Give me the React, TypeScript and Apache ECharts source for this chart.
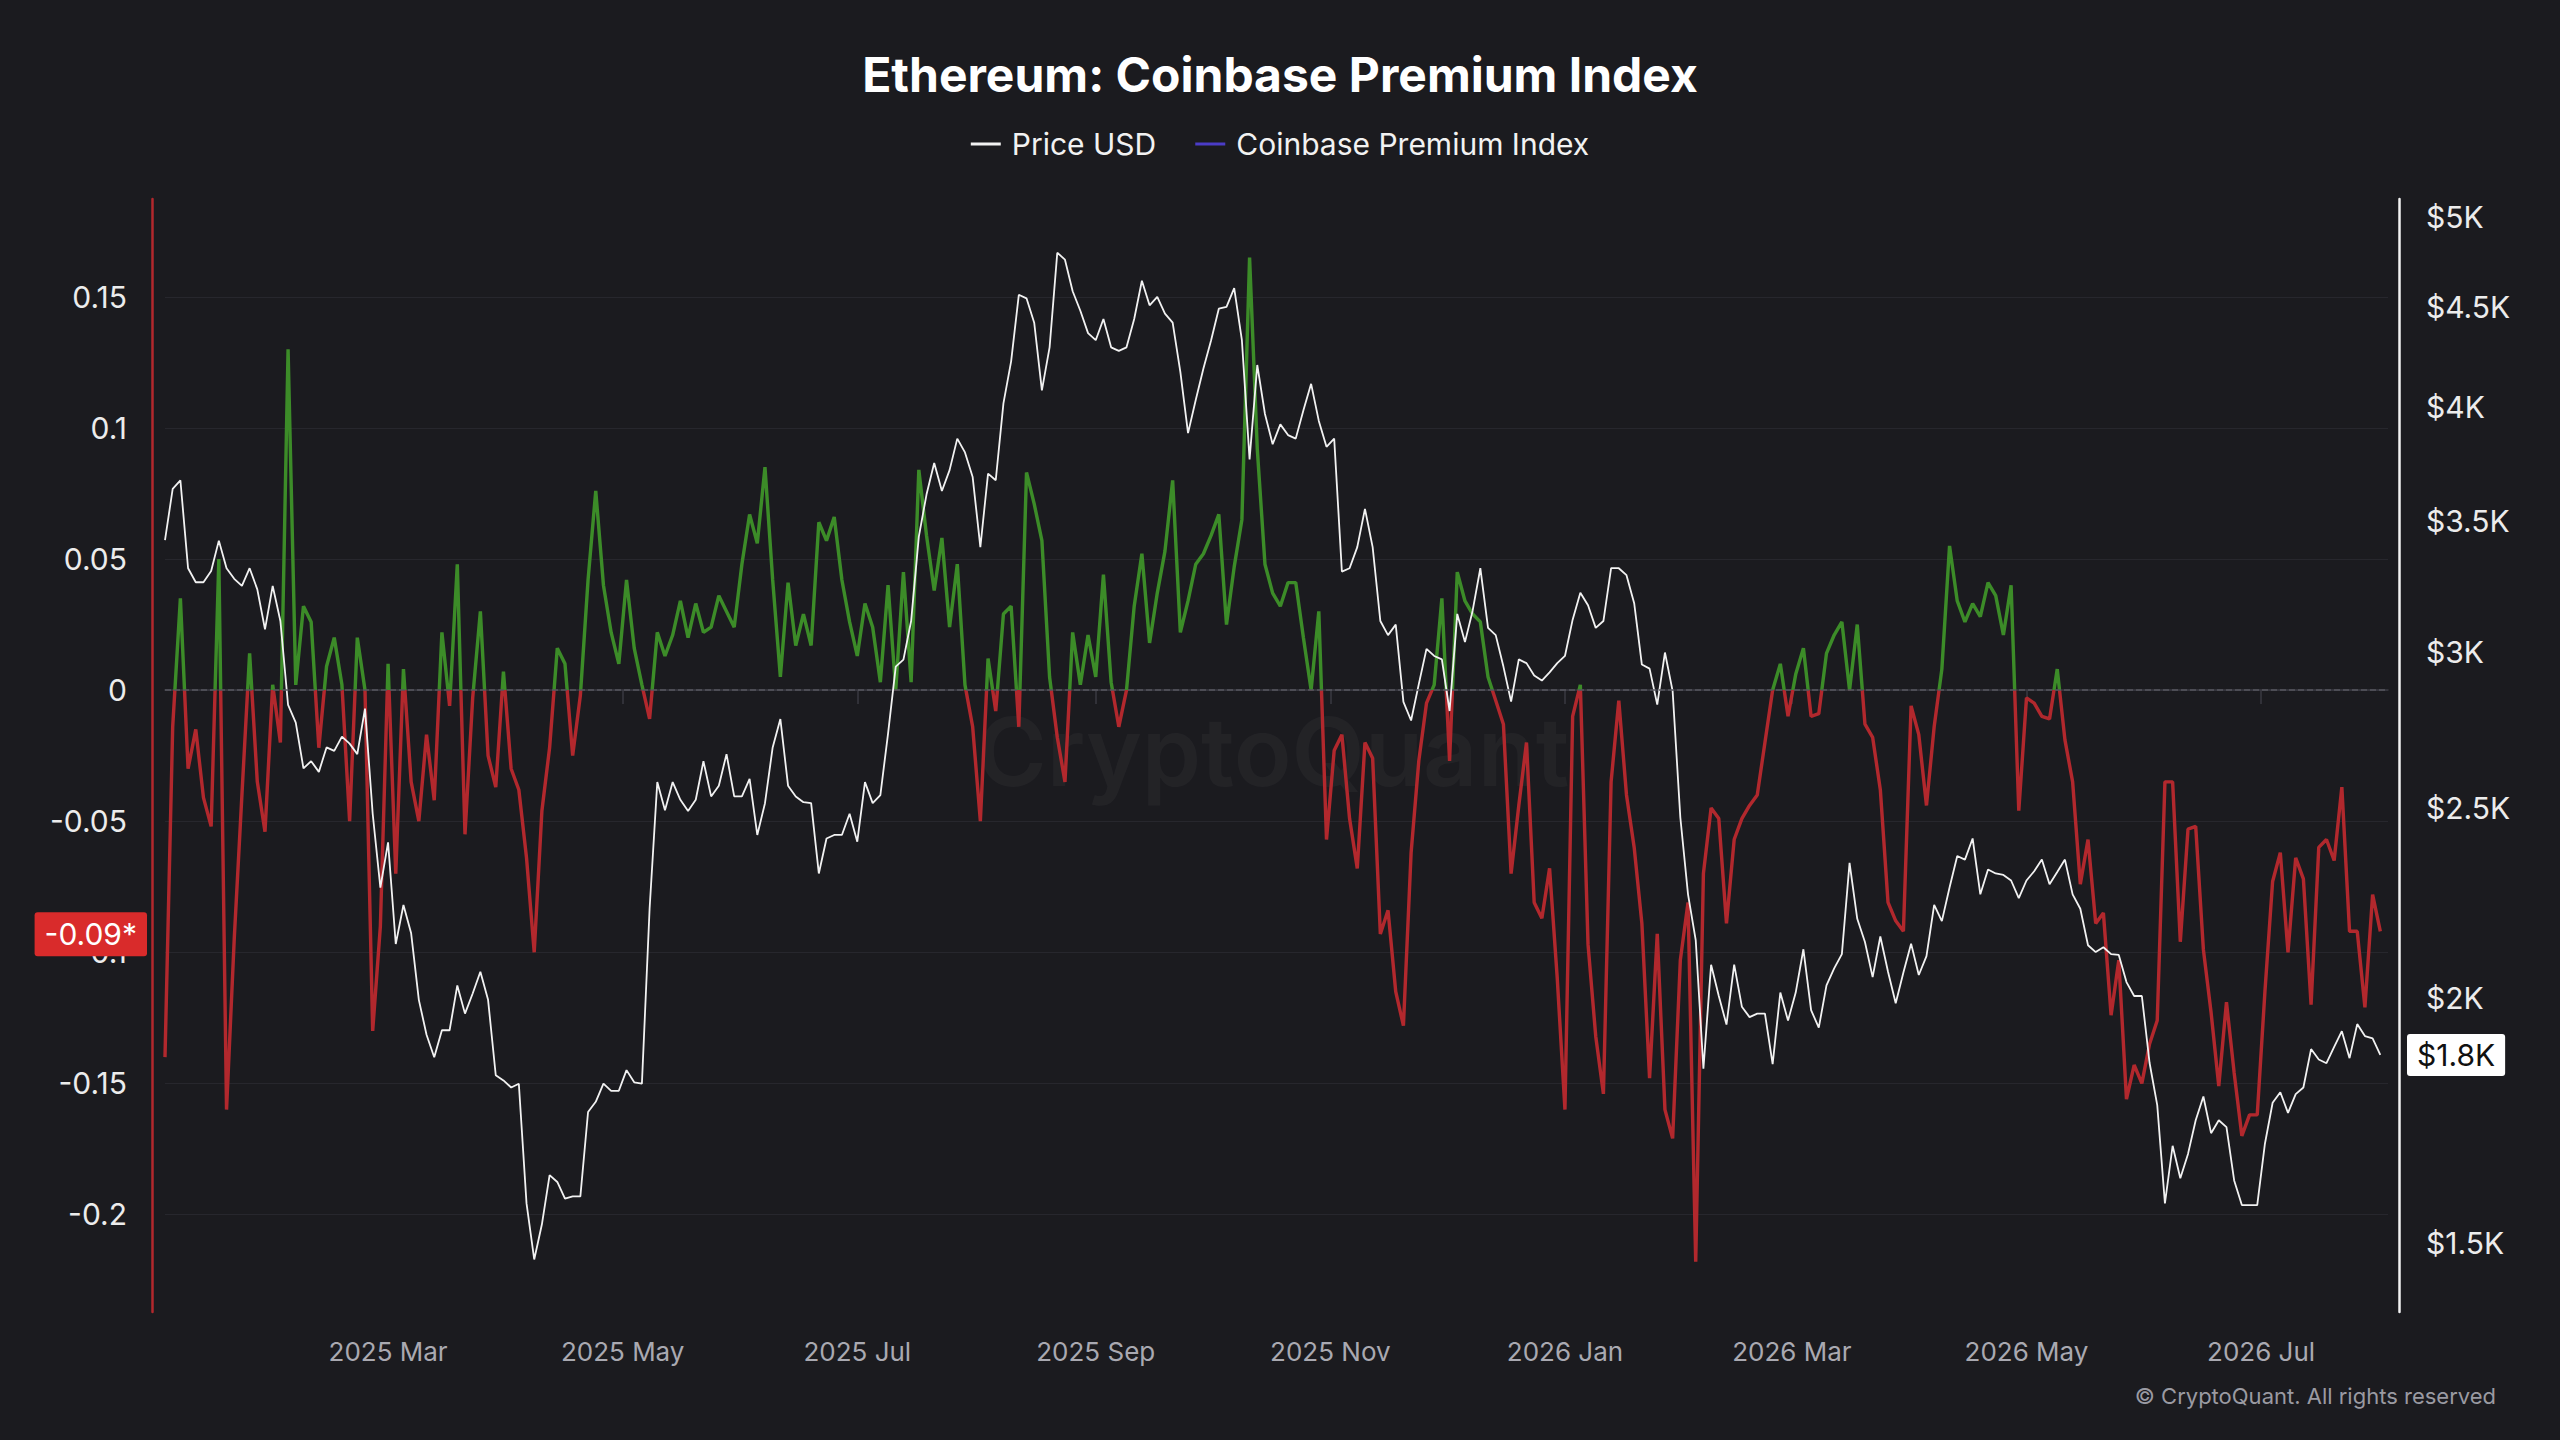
import React, { useEffect, useRef } from 'react';
import * as echarts from 'echarts';

// ---- data (one point every 2 days, starting 2025-01-02) ----
const startDate = '2025-01-02';
const stepDays = 2;
const xRange = ['2025-01-02', '2026-08-03'];
const xTickDates = ['2025-03-01', '2025-05-01', '2025-07-01', '2025-09-01', '2025-11-01', '2026-01-01', '2026-03-01', '2026-05-01', '2026-07-01'];
const monthNames = ['Jan', 'Feb', 'Mar', 'Apr', 'May', 'Jun', 'Jul', 'Aug', 'Sep', 'Oct', 'Nov', 'Dec'];
const priceTicks = [1500, 2000, 2500, 3000, 3500, 4000, 4500, 5000];
const premiumRange = [-0.2372, 0.1873];
const priceRange = [1383, 5107];

const priceUsd = [
  3422, 3634, 3671, 3311, 3257, 3257, 3300, 3420, 3311, 3270,
  3243, 3311, 3230, 3082, 3243, 3112, 2820, 2762, 2618, 2640,
  2607, 2683, 2672, 2717, 2695, 2662, 2808, 2482, 2276, 2400,
  2130, 2230, 2157, 1995, 1915, 1865, 1925, 1925, 2029, 1963,
  2010, 2062, 1995, 1826, 1815, 1800, 1808, 1571, 1471, 1533,
  1624, 1611, 1580, 1584, 1584, 1749, 1770, 1808, 1793, 1793,
  1837, 1811, 1808, 2220, 2576, 2492, 2576, 2523, 2490, 2523,
  2640, 2533, 2565, 2662, 2533, 2533, 2586, 2421, 2513, 2683,
  2774, 2565, 2533, 2516, 2513, 2314, 2411, 2421, 2421, 2482,
  2402, 2576, 2513, 2537, 2727, 2950, 2974, 3112, 3436, 3610,
  3746, 3625, 3715, 3855, 3793, 3685, 3394, 3700, 3671, 4018,
  4221, 4564, 4545, 4417, 4080, 4291, 4795, 4756, 4583, 4479,
  4363, 4327, 4436, 4291, 4273, 4291, 4436, 4640, 4508, 4553,
  4464, 4417, 4169, 3880, 4034, 4186, 4327, 4490, 4500, 4600,
  4327, 3762, 4203, 3968, 3830, 3920, 3871, 3855, 3985, 4111,
  3936, 3818, 3855, 3298, 3311, 3394, 3550, 3394, 3112, 3061,
  3099, 2830, 2769, 2890, 3012, 2987, 2975, 2800, 3138, 3036,
  3150, 3311, 3087, 3061, 2950, 2831, 2975, 2962, 2919, 2902,
  2930, 2962, 2987, 3117, 3217, 3170, 3087, 3112, 3311, 3311,
  3284, 3178, 2957, 2943, 2821, 2999, 2866, 2471, 2258, 2140,
  1840, 2079, 2004, 1938, 2079, 1979, 1955, 1963, 1963, 1850,
  2012, 1947, 2012, 2117, 1971, 1931, 2029, 2070, 2105, 2343,
  2194, 2135, 2049, 2149, 2062, 1987, 2060, 2131, 2054, 2100,
  2230, 2188, 2276, 2362, 2352, 2411, 2258, 2325, 2314, 2310,
  2295, 2248, 2295, 2320, 2352, 2285, 2318, 2352, 2258, 2220,
  2127, 2110, 2122, 2105, 2103, 2037, 2004, 2004, 1853, 1763,
  1571, 1681, 1618, 1665, 1732, 1781, 1706, 1732, 1718, 1614,
  1568, 1568, 1568, 1685, 1768, 1790, 1747, 1786, 1800, 1883,
  1860, 1852, 1888, 1923, 1863, 1939, 1912, 1907, 1870,
];

const premiumIndex = [
  -0.14, -0.014, 0.035, -0.03, -0.015, -0.041, -0.052, 0.05, -0.16, -0.095,
  -0.04, 0.014, -0.035, -0.054, 0.002, -0.02, 0.13, 0.002, 0.032, 0.026,
  -0.022, 0.009, 0.02, 0.002, -0.05, 0.02, 0.0, -0.13, -0.09, 0.01,
  -0.07, 0.008, -0.035, -0.05, -0.017, -0.042, 0.022, -0.006, 0.048, -0.055,
  -0.003, 0.03, -0.025, -0.037, 0.007, -0.03, -0.038, -0.064, -0.1, -0.046,
  -0.022, 0.016, 0.01, -0.025, -0.002, 0.042, 0.076, 0.04, 0.022, 0.01,
  0.042, 0.016, 0.002, -0.011, 0.022, 0.013, 0.021, 0.034, 0.02, 0.033,
  0.022, 0.024, 0.036, 0.03, 0.024, 0.048, 0.067, 0.056, 0.085, 0.042,
  0.005, 0.041, 0.017, 0.029, 0.017, 0.064, 0.057, 0.066, 0.042, 0.026,
  0.013, 0.033, 0.024, 0.003, 0.04, 0.0, 0.045, 0.003, 0.084, 0.059,
  0.038, 0.058, 0.024, 0.048, 0.002, -0.014, -0.05, 0.012, -0.008, 0.029,
  0.032, -0.014, 0.083, 0.071, 0.057, 0.005, -0.018, -0.035, 0.022, 0.002,
  0.021, 0.005, 0.044, 0.003, -0.014, 0.0, 0.032, 0.052, 0.018, 0.037,
  0.053, 0.08, 0.022, 0.034, 0.048, 0.052, 0.059, 0.067, 0.025, 0.047,
  0.065, 0.165, 0.092, 0.048, 0.037, 0.032, 0.041, 0.041, 0.02, 0.0,
  0.03, -0.057, -0.023, -0.017, -0.049, -0.068, -0.02, -0.026, -0.093, -0.084,
  -0.115, -0.128, -0.062, -0.027, -0.005, 0.002, 0.035, -0.027, 0.045, 0.034,
  0.029, 0.026, 0.005, -0.004, -0.013, -0.07, -0.044, -0.02, -0.081, -0.087,
  -0.068, -0.11, -0.16, -0.01, 0.002, -0.097, -0.132, -0.154, -0.035, -0.004,
  -0.04, -0.06, -0.089, -0.148, -0.093, -0.16, -0.171, -0.103, -0.081, -0.218,
  -0.07, -0.045, -0.049, -0.089, -0.057, -0.049, -0.044, -0.04, -0.02, 0.0,
  0.01, -0.01, 0.006, 0.016, -0.01, -0.009, 0.014, 0.021, 0.026, 0.0,
  0.025, -0.013, -0.018, -0.038, -0.081, -0.088, -0.092, -0.006, -0.017, -0.044,
  -0.014, 0.008, 0.055, 0.034, 0.026, 0.033, 0.028, 0.041, 0.036, 0.021,
  0.04, -0.046, -0.003, -0.005, -0.01, -0.011, 0.008, -0.019, -0.035, -0.074,
  -0.057, -0.089, -0.085, -0.124, -0.103, -0.156, -0.143, -0.15, -0.135, -0.126,
  -0.035, -0.035, -0.096, -0.053, -0.052, -0.099, -0.123, -0.151, -0.119, -0.146,
  -0.17, -0.162, -0.162, -0.115, -0.073, -0.062, -0.1, -0.064, -0.072, -0.12,
  -0.06, -0.057, -0.065, -0.037, -0.092, -0.092, -0.121, -0.078, -0.092,
];

// ---- styling ----
const BG = '#1b1b1f';
const GREEN = '#3c8c28';
const RED = '#b2282d';
const LEGEND_BLUE = '#4b3cc7';
const WHITE = '#f2f2f2';
const FONT = 'Inter, "Noto Sans", sans-serif';
const DAY = 86400000;

const parseDay = (s: string) => {
  const [y, m, d] = s.split('-').map(Number);
  return Date.UTC(y, m - 1, d);
};
const fmtDay = (t: number) => new Date(t).toISOString().slice(0, 10);

export default function App() {
  const ref = useRef<HTMLDivElement>(null);

  useEffect(() => {
    if (!ref.current) return;
    const chart = echarts.init(ref.current, null, { renderer: 'svg' });

    const days: string[] = [];
    for (let t = parseDay(xRange[0]); t <= parseDay(xRange[1]); t += DAY) days.push(fmtDay(t));
    const t0 = parseDay(startDate);
    const premiumData = premiumIndex.map((v, i) => [fmtDay(t0 + i * stepDays * DAY), v]);
    const priceData = priceUsd.map((v, i) => [fmtDay(t0 + i * stepDays * DAY), Math.log10(v)]);
    const tickSet = new Set(xTickDates);
    const isTick = (_idx: number, val: string) => tickSet.has(val);
    const lastPremium = premiumIndex[premiumIndex.length - 1];
    const lastPrice = priceUsd[priceUsd.length - 1];

    chart.setOption({
      animation: false,
      backgroundColor: BG,
      title: {
        text: 'Ethereum: Coinbase Premium Index',
        left: 'center',
        top: 45,
        textStyle: { color: '#ffffff', fontSize: 48, fontWeight: 'bold', fontFamily: FONT },
      },
      legend: {
        top: 124,
        left: 'center',
        icon: 'rect',
        itemWidth: 30,
        itemHeight: 3,
        itemGap: 39,
        textStyle: { color: WHITE, fontSize: 30, fontFamily: FONT, padding: [0, 0, 0, 6] },
        data: [
          { name: 'Price USD', itemStyle: { color: WHITE } },
          { name: 'Coinbase Premium Index', itemStyle: { color: LEGEND_BLUE } },
        ],
      },
      grid: { left: 165, right: 172, top: 199, bottom: 128, containLabel: false },
      xAxis: {
        type: 'category',
        data: days,
        boundaryGap: false,
        axisLine: { show: true, lineStyle: { color: '#3a3a42', width: 1.5 } },
        axisTick: { show: true, length: 14, interval: isTick, lineStyle: { color: '#3a3a42', width: 1.5 } },
        axisLabel: {
          interval: isTick,
          color: '#a9a9b1',
          fontSize: 26,
          fontFamily: FONT,
          margin: 26,
          formatter: (v: string) => {
            const [y, m] = v.split('-').map(Number);
            return y + ' ' + monthNames[m - 1];
          },
        },
        splitLine: { show: false },
      },
      yAxis: [
        {
          type: 'value',
          position: 'left',
          min: premiumRange[0],
          max: premiumRange[1],
          splitNumber: 8,
          offset: 13,
          axisLine: { show: true, lineStyle: { color: RED, width: 2.5 } },
          axisTick: { show: false },
          axisLabel: {
            showMinLabel: false,
            showMaxLabel: false,
            color: '#ececec',
            fontSize: 30,
            fontFamily: FONT,
            margin: 25,
            formatter: (v: number) => String(Math.round(v * 100) / 100),
          },
          splitLine: { show: true, showMinLine: false, showMaxLine: false, lineStyle: { color: '#27272d', width: 1 } },
        },
        {
          type: 'value',
          position: 'right',
          min: Math.log10(priceRange[0]),
          max: Math.log10(priceRange[1]),
          offset: 11,
          axisLine: { show: true, lineStyle: { color: WHITE, width: 2.5 } },
          axisTick: { show: false },
          axisLabel: { show: false },
          splitLine: { show: false },
        },
      ],
      visualMap: {
        type: 'piecewise',
        show: false,
        seriesIndex: 0,
        dimension: 1,
        pieces: [
          { gt: 0, lte: 1, color: GREEN },
          { gt: -1, lte: 0, color: RED },
        ],
        outOfRange: { color: RED },
      },
      series: [
        {
          name: 'Coinbase Premium Index',
          type: 'line',
          yAxisIndex: 0,
          data: premiumData,
          showSymbol: false,
          symbol: 'none',
          color: LEGEND_BLUE,
          lineStyle: { width: 3.4 },
          z: 2,
          markLine: {
            silent: true,
            symbol: ['none', 'none'],
            label: { show: false },
            lineStyle: { color: '#55555d', type: 'dashed', width: 1.5 },
            data: [{ yAxis: 0 }],
          },
        },
        {
          name: 'Price USD',
          type: 'line',
          yAxisIndex: 1,
          data: priceData,
          showSymbol: false,
          symbol: 'none',
          color: WHITE,
          lineStyle: { width: 1.8, color: WHITE },
          z: 3,
        },
      ],
    });

    // labels placed through the library's own axis scales
    const priceLabel = (p: number) => {
      const k = p / 1000;
      return '$' + (Number.isInteger(k) ? String(k) : k.toFixed(1)) + 'K';
    };
    const rightX = 2400;
    const graphics: any[] = [
      {
        type: 'text',
        z: 0,
        x: 1273,
        y: 751,
        silent: true,
        style: {
          text: 'CryptoQuant',
          fill: 'rgba(255,255,255,0.035)',
          font: '600 95px Inter, "Noto Sans", sans-serif',
          align: 'center',
          verticalAlign: 'middle',
        },
      },
      {
        type: 'text',
        right: 64,
        top: 1385,
        silent: true,
        style: {
          text: '© CryptoQuant. All rights reserved',
          fill: '#9a9aa2',
          font: '22px Inter, "Noto Sans", sans-serif',
        },
      },
    ];
    priceTicks.forEach((p) => {
      const y = chart.convertToPixel({ yAxisIndex: 1 }, Math.log10(p)) as number;
      graphics.push({
        type: 'text',
        x: rightX + 26,
        y,
        silent: true,
        style: {
          text: priceLabel(p),
          fill: '#ececec',
          font: '30px Inter, "Noto Sans", sans-serif',
          align: 'left',
          verticalAlign: 'middle',
        },
      });
    });
    const yPrem = chart.convertToPixel({ yAxisIndex: 0 }, lastPremium) as number;
    graphics.push({
      type: 'text',
      x: 147,
      y: yPrem + 3,
      z: 100,
      silent: true,
      style: {
        text: lastPremium.toFixed(2) + '*',
        fill: '#ffffff',
        font: '30px Inter, "Noto Sans", sans-serif',
        align: 'right',
        verticalAlign: 'middle',
        backgroundColor: '#d92b2b',
        padding: [8, 10, 6, 10],
        borderRadius: 3,
      },
    });
    const yPrice = chart.convertToPixel({ yAxisIndex: 1 }, Math.log10(lastPrice)) as number;
    graphics.push({
      type: 'text',
      x: 2407,
      y: yPrice,
      z: 100,
      silent: true,
      style: {
        text: '$' + (Math.floor(lastPrice / 100) / 10).toFixed(1) + 'K',
        fill: '#111111',
        font: '30px Inter, "Noto Sans", sans-serif',
        align: 'left',
        verticalAlign: 'middle',
        backgroundColor: '#ffffff',
        padding: [7, 10, 5, 10],
        borderRadius: 3,
      },
    });
    chart.setOption({ graphic: graphics });

    return () => chart.dispose();
  }, []);

  return (
    <div
      ref={ref}
      style={{ position: 'fixed', left: 0, top: 0, width: '2560px', height: '1440px', background: BG }}
    />
  );
}
